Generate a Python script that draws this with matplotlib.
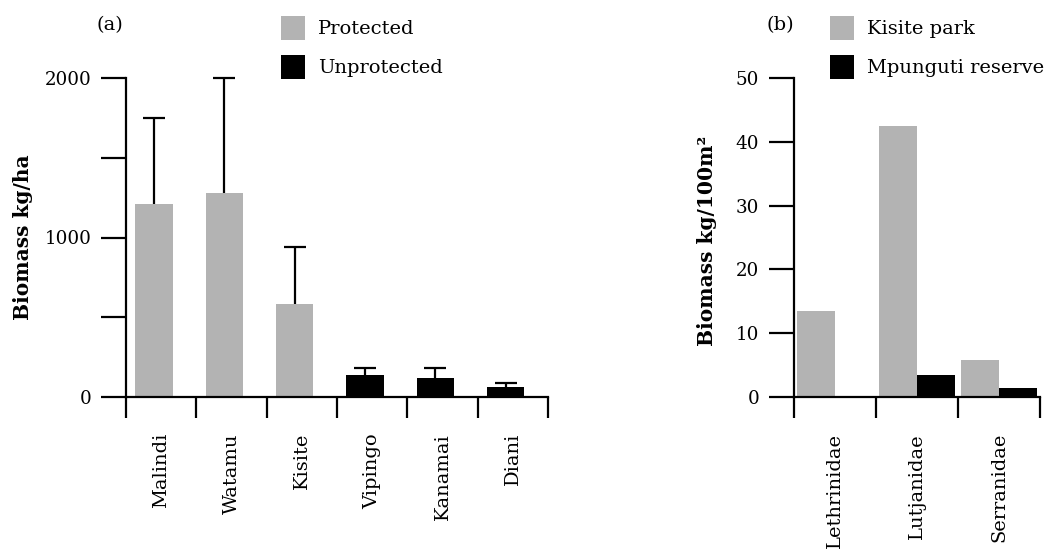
import matplotlib
matplotlib.use("Agg")
import matplotlib.pyplot as plt
import numpy as np
from matplotlib.patches import Patch

plt.rcParams['font.family'] = ['DejaVu Serif']

# Panel (a) data
sites = ["Malindi", "Watamu", "Kisite", "Vipingo", "Kanamai", "Diani"]
biomass_a = [1210, 1279, 583, 138, 119, 63]
err_upper_a = [1750, 2000, 940, 184, 184, 90]
protected = [True, True, True, False, False, False]

# Panel (b) data
families = ["Lethrinidae", "Lutjanidae", "Serranidae"]
kisite_park = [13.5, 42.5, 5.8]
mpunguti_reserve = [0.0, 3.4, 1.4]

GRAY = "#b3b3b3"
BLACK = "#000000"
FS = 14
FS_TICK = 13.2
FS_LAB = 14.5

fig = plt.figure(figsize=(10.53, 5.5), dpi=100)
W, H = 1053, 550

def ax_rect(l, r, t, b):
    return [l / W, 1 - b / H, (r - l) / W, (b - t) / H]

def style(ax):
    for s in ("top", "right"):
        ax.spines[s].set_visible(False)
    for s in ("left", "bottom"):
        ax.spines[s].set_linewidth(1.6)
    ax.tick_params(axis="y", which="both", length=18, width=1.6, pad=7, labelsize=FS_TICK)
    ax.tick_params(axis="x", which="major", length=15, width=1.6, labelbottom=False)
    ax.tick_params(axis="x", which="minor", length=0, pad=26, labelsize=FS, labelrotation=90)

LEG_KW = dict(loc="upper left", frameon=False, fontsize=FS,
              handlelength=1.24, handleheight=1.52, handletextpad=0.65,
              labelspacing=0.77, borderpad=0, borderaxespad=0)

# ---- Panel (a)
ax1 = fig.add_axes(ax_rect(126, 548, 78, 397))
n = len(sites)
xc = np.arange(n) + 0.5 - 0.1
cols = [GRAY if p else BLACK for p in protected]
ax1.bar(xc, biomass_a, width=0.53, color=cols, zorder=2)
ax1.vlines(xc, biomass_a, err_upper_a, color="black", linewidth=1.6, zorder=3)
ax1.plot(xc, err_upper_a, linestyle="none", marker="_", markersize=16.5,
         markeredgewidth=1.6, color="black", zorder=3, clip_on=False)
ax1.set_xlim(0, n)
ax1.set_ylim(0, 2000)
ax1.set_yticks([0, 500, 1000, 1500, 2000])
ax1.set_yticklabels(["0", "", "1000", "", "2000"])
ax1.set_xticks(np.arange(n + 1))
ax1.set_xticks(np.arange(n) + 0.5, minor=True)
ax1.set_xticklabels(sites, minor=True)
style(ax1)

fig.text(23 / W, 1 - 237 / H, "Biomass kg/ha", rotation=90, fontsize=FS_LAB,
         fontweight="bold", ha="center", va="center")
fig.text(110 / W, 1 - 25 / H, "(a)", fontsize=FS, ha="center", va="center")

h1 = [Patch(facecolor=GRAY, edgecolor="none"), Patch(facecolor=BLACK, edgecolor="none")]
fig.legend(h1, ["Protected", "Unprotected"],
           bbox_to_anchor=(281 / W, 1 - 16 / H), **LEG_KW)

# ---- Panel (b)
ax2 = fig.add_axes(ax_rect(794, 1040, 78, 397))
m = len(families)
xb = np.arange(m) + 0.5
bw = 0.46
ax2.bar(xb - bw / 2, kisite_park, width=bw, color=GRAY, zorder=2)
ax2.bar(xb + bw / 2, mpunguti_reserve, width=bw, color=BLACK, zorder=2)
ax2.set_xlim(0, m)
ax2.set_ylim(0, 50)
ax2.set_yticks([0, 10, 20, 30, 40, 50])
ax2.set_xticks(np.arange(m + 1))
ax2.set_xticks(xb, minor=True)
ax2.set_xticklabels(families, minor=True)
style(ax2)

fig.text(707 / W, 1 - 241 / H, "Biomass kg/100m²", rotation=90, fontsize=FS_LAB,
         fontweight="bold", ha="center", va="center")
fig.text(780 / W, 1 - 25 / H, "(b)", fontsize=FS, ha="center", va="center")

h2 = [Patch(facecolor=GRAY, edgecolor="none"), Patch(facecolor=BLACK, edgecolor="none")]
fig.legend(h2, ["Kisite park", "Mpunguti reserve"],
           bbox_to_anchor=(830 / W, 1 - 16 / H), **LEG_KW)

fig.savefig("out.png", dpi=100)
